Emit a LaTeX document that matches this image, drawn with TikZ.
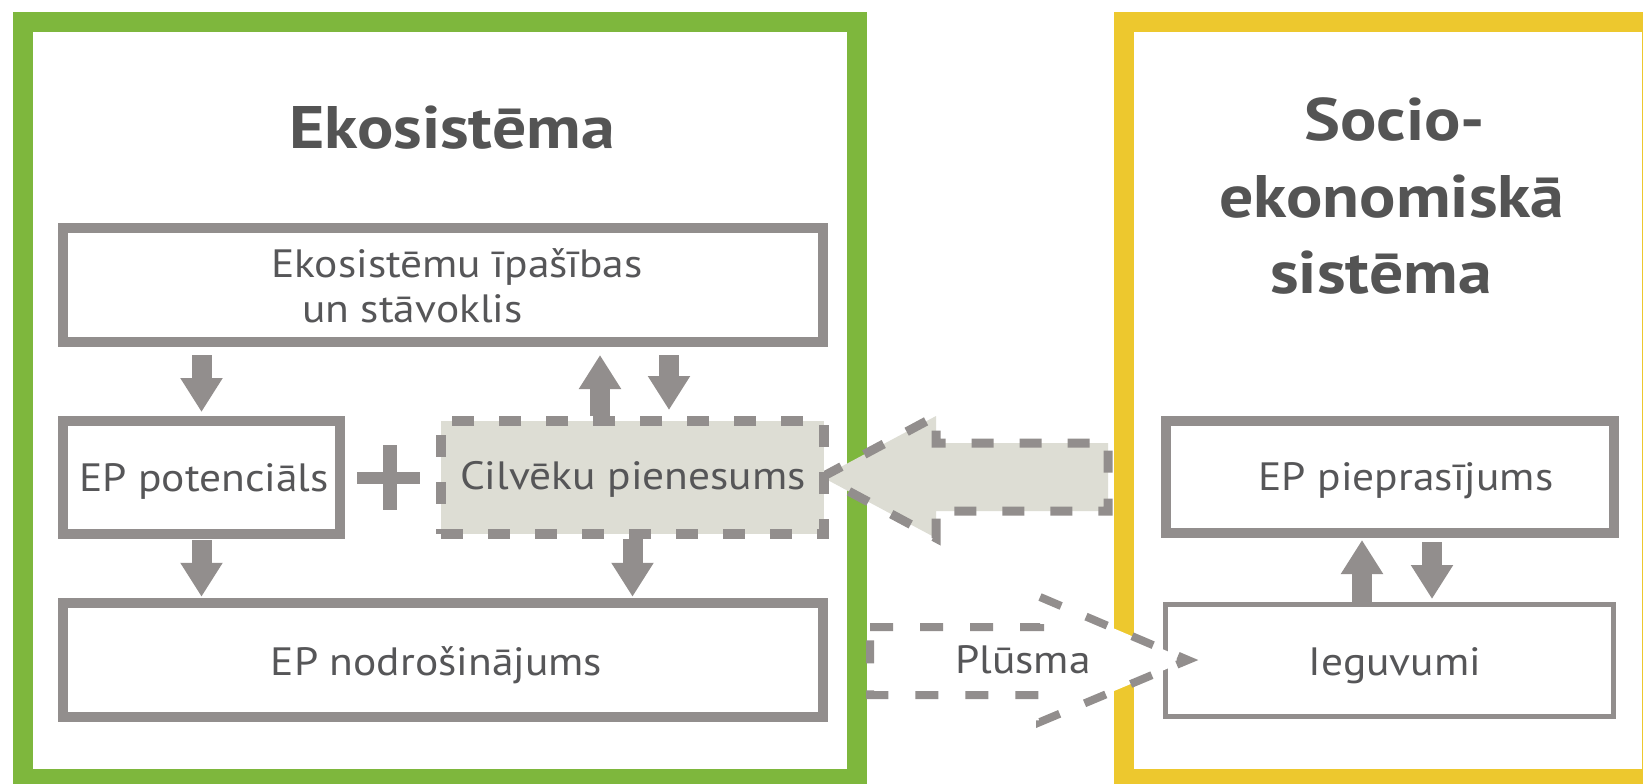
\documentclass[tikz,border=0pt]{standalone}
\usepackage{fontspec}
\setmainfont{PT Sans}[FakeStretch=1.1]
\newfontfamily\headfont{PT Sans}[FakeStretch=1.13]
\usetikzlibrary{arrows.meta}

\definecolor{ecogreen}{RGB}{126,183,61}
\definecolor{socyellow}{RGB}{237,200,46}
\definecolor{boxgray}{RGB}{146,142,141}
\definecolor{txtgray}{RGB}{86,86,88}
\definecolor{titlegray}{RGB}{84,84,84}
\definecolor{inputfill}{RGB}{221,221,212}

\begin{document}
\begin{tikzpicture}[x=1pt,y=-1pt,
  frame/.style={draw, line width=20pt, inner sep=0pt, outer sep=0pt},
  solidbox/.style={draw=boxgray, line width=10pt, fill=white, inner sep=0pt},
  thinbox/.style={draw=boxgray, line width=5pt, fill=white, inner sep=0pt},
  inputbox/.style={draw=boxgray, line width=10pt, fill=inputfill, inner sep=0pt,
    dash pattern=on 22pt off 25pt},
  blockarrow/.style={draw=boxgray, line width=20pt, -{Triangle[width=40pt,length=34pt]}},
  inputarrow/.style={draw=boxgray, line width=9pt, fill=inputfill,
    dash pattern=on 22pt off 26pt, line join=miter},
  flowarrow/.style={draw=boxgray, line width=8pt, fill=white,
    dash pattern=on 23pt off 27pt, line join=miter},
  title/.style={text=titlegray, font=\headfont\fontsize{60}{76}\selectfont\bfseries,
    inner sep=0pt, anchor=base},
  lbl/.style={text=txtgray, font=\fontsize{39.5}{45}\selectfont,
    inner sep=0pt, anchor=base}
]
\useasboundingbox (0,0) rectangle (1643,784);
\fill[white] (0,0) rectangle (1643,784);

% system frames
\node[frame, draw=ecogreen, minimum width=834pt, minimum height=757pt] (eco) at (440,400.5) {};
\node[frame, draw=socyellow, minimum width=528pt, minimum height=757pt] (soc) at (1388,400.5) {};

% ecosystem boxes
\node[solidbox, minimum width=760pt, minimum height=114pt] (state) at (443,285) {};
\node[solidbox, minimum width=277pt, minimum height=113pt] (pot) at (201.5,477.5) {};
\node[solidbox, minimum width=760pt, minimum height=113.5pt] (supply) at (443,660) {};

% socio-economic boxes
\node[solidbox, minimum width=448pt, minimum height=112pt] (demand) at (1390,477) {};
\node[thinbox, minimum width=448pt, minimum height=112pt] (benefit) at (1389,660) {};

% demand arrow towards the human input
\draw[inputarrow] (822,477) -- (936,416) -- (936,443) -- (1108,443) -- (1108,511)
  -- (936,511) -- (936,538) -- cycle;

\node[inputbox, minimum width=383pt, minimum height=113pt] (input) at (632.5,477.5) {};

% flow arrow towards the benefits
\draw[flowarrow] (870,627) -- (1040,627) -- (1040,597) -- (1188,660) -- (1040,722)
  -- (1040,695) -- (870,695) -- cycle;

% plus sign
\fill[boxgray] (356.5,472) rectangle (419.5,484);
\fill[boxgray] (383,445) rectangle (396.5,510);

% vertical links
\draw[blockarrow, shorten <=8pt, shorten >=4pt] (state.south -| pot.north) -- (pot.north);
\path ([xshift=-32.5pt]input.north) coordinate (upA)
      ([xshift=36.5pt]input.north) coordinate (downA);
\draw[blockarrow, shorten >=8pt] (upA) -- (upA |- state.south);
\draw[blockarrow, shorten <=8pt, shorten >=6pt] (downA |- state.south) -- (downA);
\draw[blockarrow, shorten <=1pt, shorten >=1.5pt] (pot.south) -- (pot.south |- supply.north);
\draw[blockarrow, shorten >=1.5pt] (input.south) -- (input.south |- supply.north);
\path ([xshift=-27pt]benefit.north) coordinate (upB)
      ([xshift=42pt]demand.south) coordinate (downB);
\draw[blockarrow, shorten >=2pt] (upB) -- (upB |- demand.south);
\draw[blockarrow, shorten <=4pt, shorten >=2.5pt] (downB) -- (downB |- benefit.north);

% titles
\node[title] (ecoT) at (452,148) {Ekosistēma};
\node[title] (socT1) at (1395,140) {Socio-};
\node[title] (socT2) at (1392,217) {ekonomiskā};
\node[title] (socT3) at (1381,293) {sistēma};

% box labels
\node[lbl, anchor=base west] (stateT1) at (271,277) {Ekosistēmu īpašības};
\node[lbl, anchor=base west] (stateT2) at (302,322) {un stāvoklis};
\node[lbl] (potT) at (204,491) {EP potenciāls};
\node[lbl] (inputT) at (633,489) {Cilvēku pienesums};
\node[lbl] (supplyT) at (436.5,675) {EP nodrošinājums};
\node[lbl] (demandT) at (1406,490) {EP pieprasījums};
\node[lbl] (benefitT) at (1395,675) {Ieguvumi};
\node[lbl] (flowT) at (1023,673) {Plūsma};
\end{tikzpicture}
\end{document}
